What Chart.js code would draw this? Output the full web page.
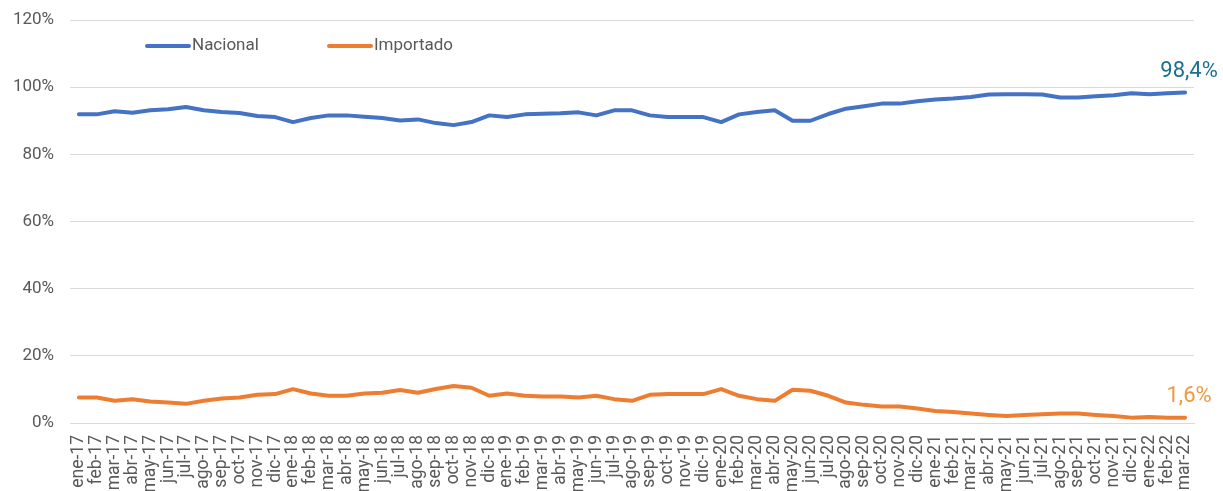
<!DOCTYPE html>
<html>
<head>
<meta charset="utf-8">
<script src="https://cdn.jsdelivr.net/npm/chart.js@4.4.1/dist/chart.umd.min.js"></script>
<style>
  html, body { margin: 0; padding: 0; background: #fff; }
  #wrap { width: 1223px; height: 491px; position: relative; }
</style>
</head>
<body>
<div id="wrap"><canvas id="chart"></canvas></div>
<script>
// categorias (meses)
var months = ["ene","feb","mar","abr","may","jun","jul","ago","sep","oct","nov","dic"];
var labels = [];
for (var yr = 17; yr <= 22; yr++) {
    for (var m = 0; m < 12; m++) {
        if (yr == 22 && m > 2) break;
        labels.push(`${months[m]}-${yr}`);
    }
}

var nacional = [
    91.9, 91.9, 92.8, 92.4, 93.1, 93.4, 94.1, 93.1, 92.6, 92.3, 91.4, 91.1,
    89.6, 90.8, 91.6, 91.6, 91.2, 90.8, 90.1, 90.4, 89.3, 88.7, 89.6, 91.6,
    91.1, 91.9, 92.1, 92.2, 92.5, 91.6, 93.1, 93.1, 91.6, 91.1, 91.1, 91.1,
    89.6, 91.9, 92.6, 93.1, 90.0, 90.0, 92.0, 93.6, 94.3, 95.1, 95.1, 95.8,
    96.3, 96.6, 97.1, 97.8, 97.9, 97.9, 97.8, 96.9, 96.9, 97.3, 97.6, 98.2,
    97.9, 98.2, 98.4
];

var importado = [
    7.6, 7.6, 6.6, 7.1, 6.4, 6.1, 5.7, 6.6, 7.3, 7.6, 8.4, 8.6,
    10.1, 8.8, 8.1, 8.1, 8.8, 9.0, 9.8, 9.0, 10.1, 11.0, 10.5, 8.1,
    8.8, 8.1, 7.9, 7.9, 7.6, 8.1, 7.1, 6.6, 8.4, 8.6, 8.6, 8.6,
    10.1, 8.1, 7.1, 6.6, 9.9, 9.6, 8.1, 6.1, 5.4, 4.9, 4.9, 4.3,
    3.6, 3.3, 2.8, 2.4, 2.1, 2.4, 2.6, 2.8, 2.8, 2.4, 2.1, 1.6,
    1.8, 1.6, 1.6
];

var yTicks = [0, 20, 40, 60, 80, 100, 120];

var azul = "#4472C4";
var naranja = "#ED7D31";
var gris = "#595959";
var fuente = "Roboto, 'Noto Sans', sans-serif";

// leyenda dibujada dentro del area del grafico
var legendInside = {
    id: "legendInside",
    afterDraw: function(chart){
        var ctx = chart.ctx;
        var items = [
            { text: "Nacional", color: azul, x: 147 },
            { text: "Importado", color: naranja, x: 329 }
        ];
        ctx.save();
        ctx.font = `17px ${fuente}`;
        ctx.textBaseline = "middle";
        ctx.lineCap = "round";
        items.forEach(function(it){
            ctx.strokeStyle = it.color;
            ctx.lineWidth = 4;
            ctx.beginPath();
            ctx.moveTo(it.x, 46);
            ctx.lineTo(it.x + 42, 46);
            ctx.stroke();
            ctx.fillStyle = gris;
            ctx.fillText(it.text, it.x + 45, 46);
        });
        ctx.restore();
    }
};

// etiqueta del ultimo valor de cada serie
var lastLabels = {
    id: "lastLabels",
    afterDatasetsDraw: function(chart){
        var ctx = chart.ctx;
        var colors = ["#1B6F92", "#EE9A3E"];
        ctx.save();
        ctx.font = `22px ${fuente}`;
        ctx.textAlign = "center";
        ctx.textBaseline = "middle";
        chart.data.datasets.forEach(function(ds, i){
            var meta = chart.getDatasetMeta(i);
            var pt = meta.data[meta.data.length - 1];
            var val = ds.data[ds.data.length - 1];
            ctx.fillStyle = colors[i];
            ctx.fillText(`${val.toFixed(1).replace(".", ",")}%`, pt.x + 4, pt.y - 21);
        });
        ctx.restore();
    }
};

var ctx = document.getElementById("chart");
var myChart = new Chart(ctx, {
    type: "line",
    data: {
        labels: labels,
        datasets: [{
            label: "Nacional",
            data: nacional,
            borderColor: azul,
            borderWidth: 4,
            pointRadius: 0,
            tension: 0,
            borderCapStyle: "round",
            borderJoinStyle: "round"
        },{
            label: "Importado",
            data: importado,
            borderColor: naranja,
            borderWidth: 4,
            pointRadius: 0,
            tension: 0,
            borderCapStyle: "round",
            borderJoinStyle: "round"
        }]
    },
    options: {
        responsive: true,
        maintainAspectRatio: false,
        animation: false,
        layout: { padding: { top: 20, right: 29, left: 0, bottom: 0 } },
        plugins: {
            legend: { display: false },
            tooltip: { enabled: false }
        },
        scales: {
            x: {
                offset: true,
                grid: { display: false, drawTicks: false },
                border: { display: true, color: "#D9D9D9", width: 1 },
                ticks: {
                    color: gris,
                    font: { family: fuente, size: 17.5 },
                    minRotation: 90,
                    maxRotation: 90,
                    autoSkip: false,
                    padding: 12
                },
                afterFit: function(scale){ scale.height = 68; }
            },
            y: {
                min: 0,
                max: 120,
                afterBuildTicks: function(scale){
                    scale.ticks = yTicks.map(v => ({ value: v }));
                },
                grid: { color: "#D9D9D9", lineWidth: 1, drawTicks: false },
                border: { display: false },
                ticks: {
                    color: gris,
                    font: { family: fuente, size: 17 },
                    padding: 16,
                    callback: v => `${v}%`
                },
                afterFit: function(scale){
                    scale.width = 70;
                    scale.paddingTop = 0;
                    scale.paddingBottom = 0;
                }
            }
        }
    },
    plugins: [legendInside, lastLabels]
});
</script>
</body>
</html>
